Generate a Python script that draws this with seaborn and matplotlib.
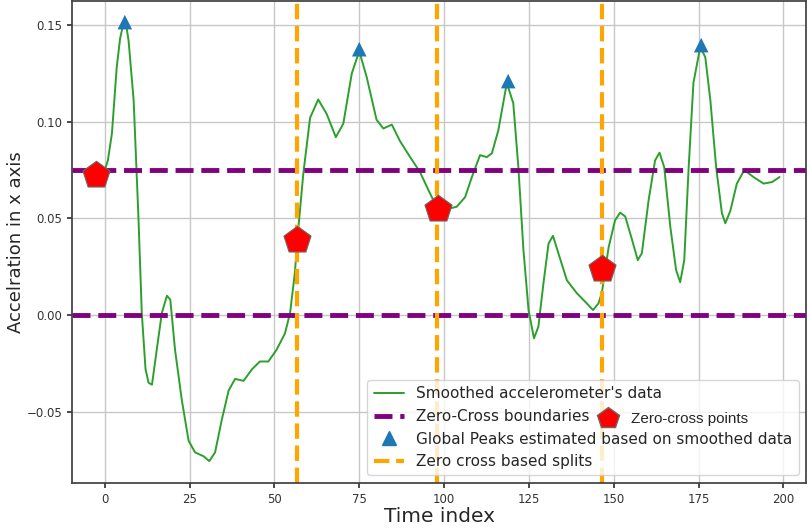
import matplotlib
matplotlib.use("Agg")
from matplotlib import pyplot as plt
from matplotlib.lines import Line2D
import seaborn as sns
import pandas as pd

# smoothed accelerometer signal (x axis)
time_idx = [0, 0.9, 2.1, 3.5, 4.5, 5.5, 6.3, 7, 8.5, 9.9, 10.9, 12, 12.9, 13.9,
            15.3, 16.8, 18.3, 19.3, 20.7, 22.7, 24.7, 26.6, 29.1, 30.8, 32.5,
            34.5, 36.5, 38.4, 40.9, 43.4, 45.7, 48.2, 50.6, 53.1, 54.6, 56, 57,
            58.5, 60.5, 62.9, 65.4, 68.1, 70.3, 72.8, 75, 77.2, 80.1, 82.1, 84.6,
            87, 90, 92.9, 95.4, 97.8, 100.8, 103.7, 106.2, 108.2, 110.6, 112.6,
            114.1, 116, 118.5, 120.4, 121.9, 123.4, 124.9, 126.5, 127.8, 129.3,
            130.8, 132.1, 133.7, 136.2, 139.1, 142.1, 143.9, 145.5, 146.5, 148.5,
            150.4, 151.9, 153.4, 155.4, 157.1, 158.3, 160.3, 162.2, 163.5, 164.9,
            166.7, 168.4, 169.6, 170.8, 172.1, 173.5, 175.5, 177, 178.5, 180.2,
            181.9, 182.9, 184.4, 186.3, 188.5, 191.2, 194.2, 196.7, 198.9]
accel_x = [0.075, 0.080, 0.094, 0.128, 0.143, 0.151, 0.150, 0.142, 0.111, 0.051,
           0.001, -0.028, -0.035, -0.036, -0.018, 0.001, 0.010, 0.008, -0.018,
           -0.044, -0.065, -0.071, -0.073, -0.0755, -0.071, -0.054, -0.039,
           -0.033, -0.034, -0.028, -0.024, -0.024, -0.018, -0.0095, 0.001,
           0.0215, 0.044, 0.073, 0.102, 0.1115, 0.104, 0.092, 0.099, 0.125,
           0.1365, 0.123, 0.101, 0.0965, 0.0985, 0.090, 0.0817, 0.074, 0.0646,
           0.056, 0.0548, 0.056, 0.061, 0.0714, 0.0827, 0.0817, 0.0837, 0.0956,
           0.120, 0.1096, 0.0765, 0.0336, 0.0026, -0.012, -0.006, 0.0165, 0.037,
           0.041, 0.032, 0.018, 0.0114, 0.006, 0.0026, 0.006, 0.0114, 0.035,
           0.049, 0.053, 0.051, 0.039, 0.0284, 0.032, 0.0595, 0.080, 0.084,
           0.0765, 0.0455, 0.0233, 0.017, 0.0284, 0.0765, 0.120, 0.1386, 0.1334,
           0.111, 0.0765, 0.0527, 0.0475, 0.054, 0.068, 0.075, 0.0714, 0.068,
           0.0688, 0.0714]

peak_x = [5.9, 75, 118.9, 175.8]
peak_y = [0.1515, 0.1375, 0.121, 0.1396]

zc_x = [-2.6, 56.6, 98.2, 146.6]
zc_y = [0.0724, 0.0388, 0.0548, 0.0238]

boundaries = [0.075, 0.0]
splits = [56.7, 97.9, 146.6]

sns.set_theme(style="whitegrid", rc={"axes.edgecolor": "0.25", "grid.color": "0.78"})
plt.rcParams['font.family'] = ['DejaVu Sans']

df = pd.DataFrame({"t": time_idx, "a": accel_x})

fig = plt.figure(figsize=(8.08, 5.28), dpi=100)
ax = fig.add_axes([0.089, 0.085, 0.909, 0.913])

sns.lineplot(data=df, x="t", y="a", ax=ax, color="tab:green", lw=1.4,
             sort=False, estimator=None)
for b in boundaries:
    ax.axhline(b, color="purple", ls="--", lw=3.5)
sns.scatterplot(x=peak_x, y=peak_y, ax=ax, marker="^", s=110,
                color="tab:blue", edgecolor="none", zorder=5)
for s in splits:
    ax.axvline(s, color="orange", ls="--", lw=3)
sns.scatterplot(x=zc_x, y=zc_y, ax=ax, marker="p", s=420, color="red",
                edgecolor="dimgray", linewidth=0.8, zorder=6)

ax.set_xlim(-9.7, 206.8)
ax.set_ylim(-0.0869, 0.1624)
ax.set_xticks([0, 25, 50, 75, 100, 125, 150, 175, 200])
ax.set_yticks([-0.05, 0.0, 0.05, 0.10, 0.15])
ax.tick_params(labelsize=8.5, colors="0.2", length=3.5, left=True, bottom=True)
ax.set_xlabel("Time index", fontsize=14.5, labelpad=1)
ax.set_ylabel("Accelration in x axis", fontsize=13, labelpad=1)

handles = [
    Line2D([], [], color="tab:green", lw=1.4),
    Line2D([], [], color="purple", ls="--", lw=3.5),
    Line2D([], [], color="tab:blue", marker="^", ls="none", markersize=10),
    Line2D([], [], color="orange", ls="--", lw=3),
]
labels = ["Smoothed accelerometer's data", "Zero-Cross boundaries",
          "Global Peaks estimated based on smoothed data", "Zero cross based splits"]
leg = ax.legend(handles, labels, loc="lower right", fontsize=11,
                borderaxespad=0.5, framealpha=0.8)
ax.add_artist(leg)

# extra legend entry pasted over the main legend
zc_handle = Line2D([], [], color="red", marker="p", ls="none", markersize=16,
                   markeredgecolor="dimgray")
ax.legend([zc_handle], ["Zero-cross points"], loc="center left",
          bbox_to_anchor=(0.7208, 0.2060), bbox_transform=fig.transFigure,
          frameon=False, handletextpad=0.75, handlelength=1.5,
          prop={"family": "Liberation Sans", "size": 11})

fig.savefig("out.png", dpi=100)
